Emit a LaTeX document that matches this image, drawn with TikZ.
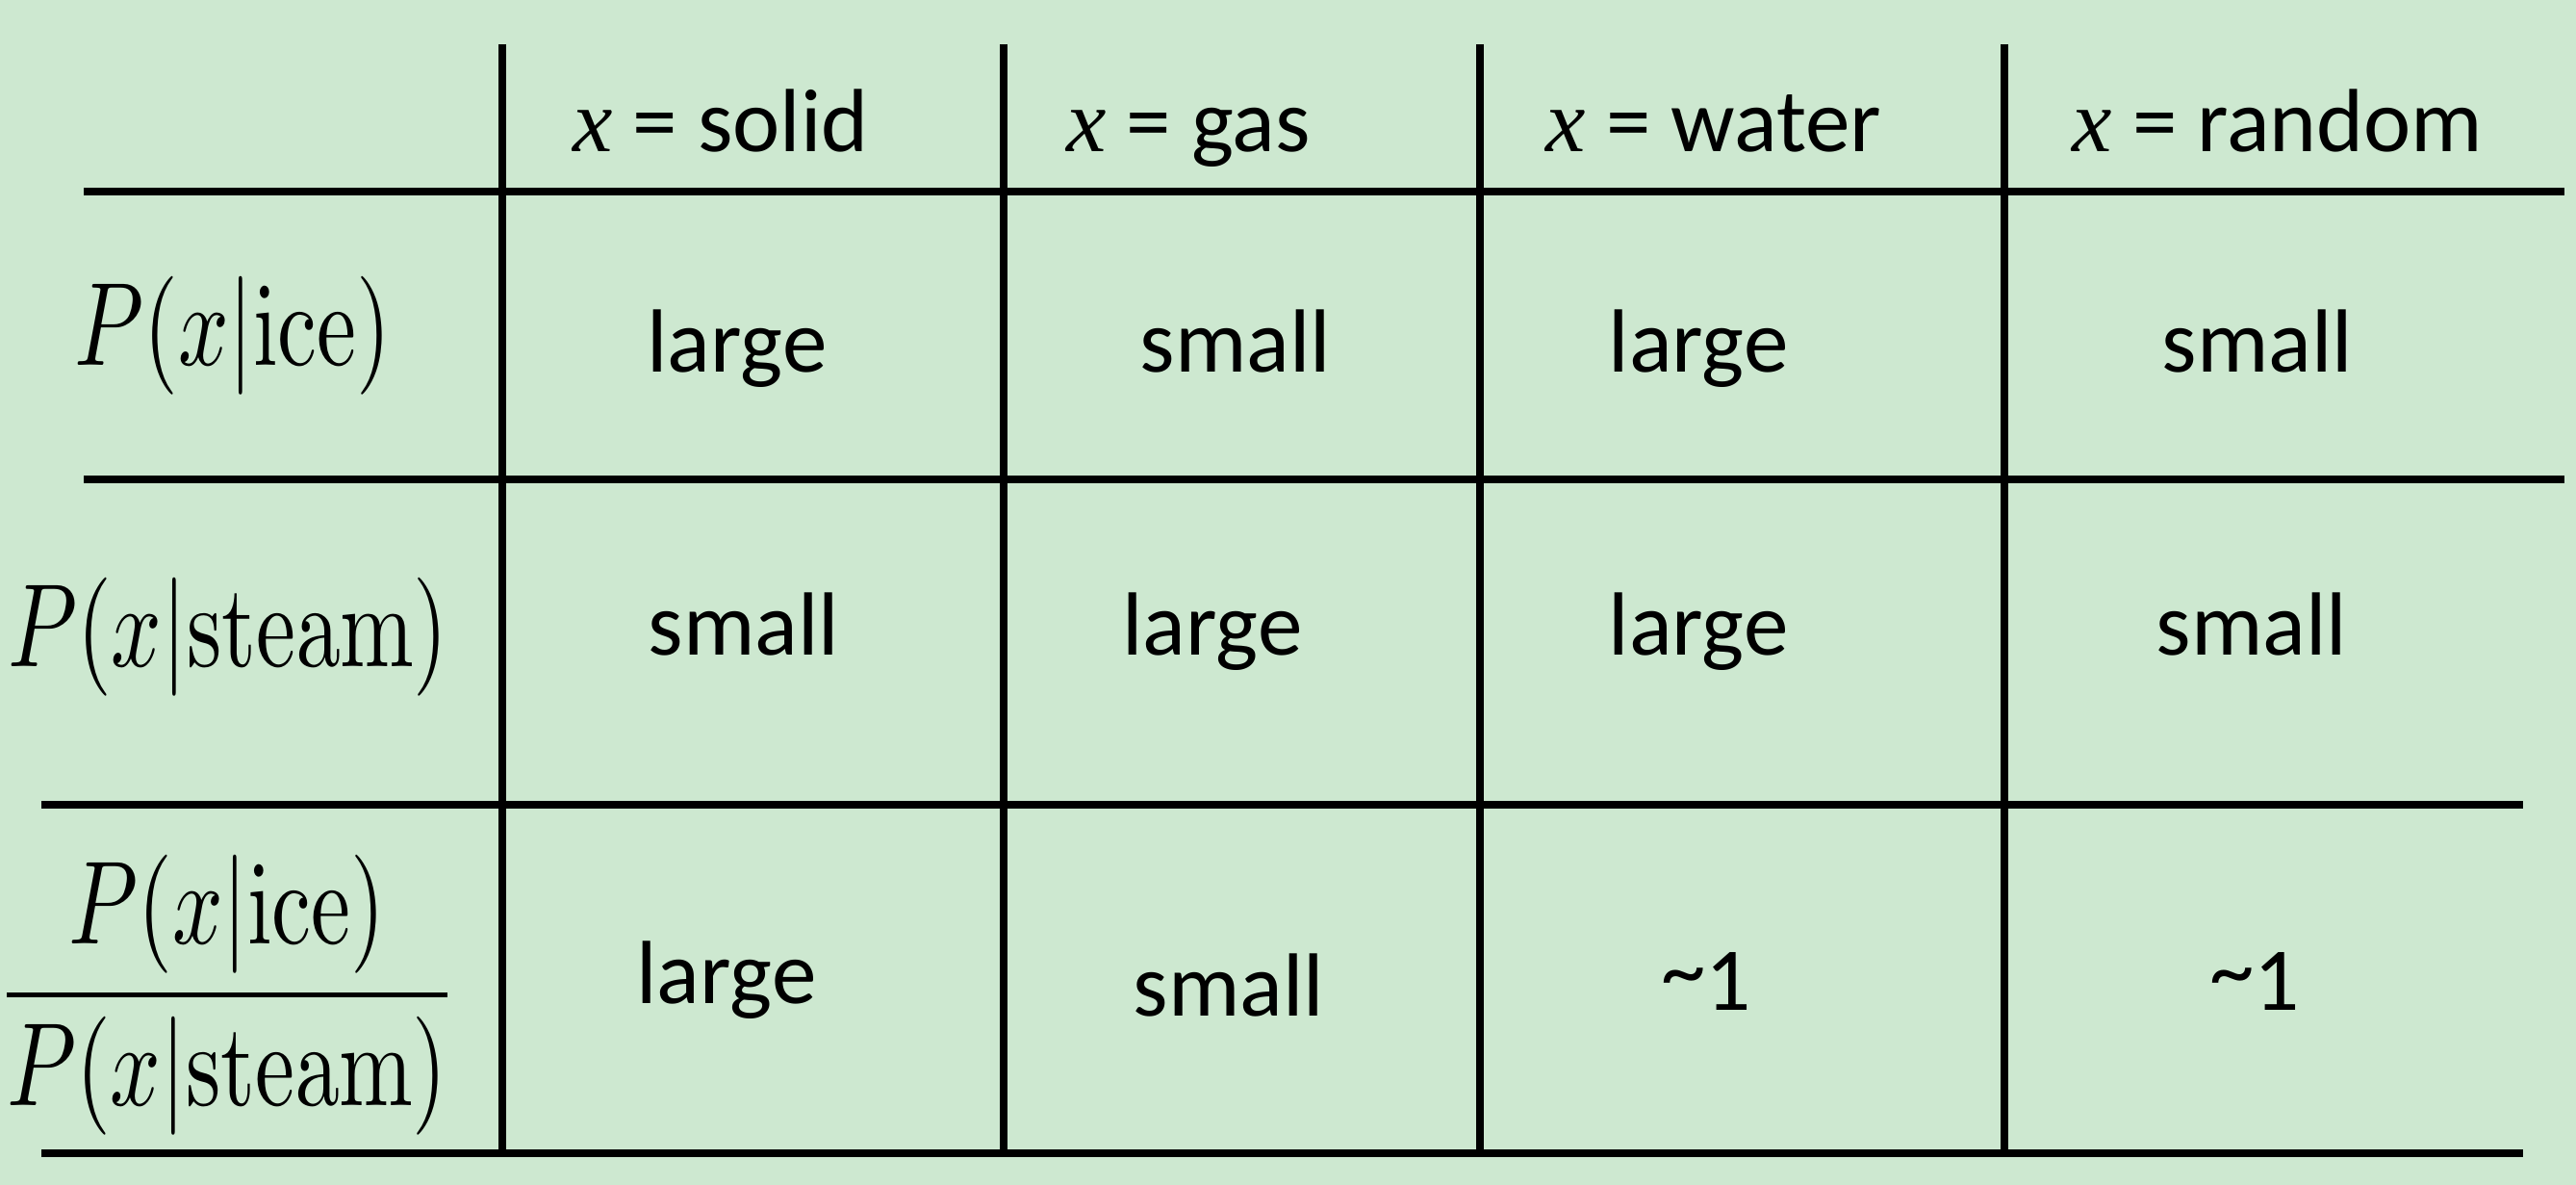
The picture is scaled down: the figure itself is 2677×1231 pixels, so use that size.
\documentclass[tikz,border=0pt]{standalone}
\usepackage[no-math]{fontspec}
\setmainfont{Carlito}
\newfontfamily\tnr{Liberation Serif}
\definecolor{bg}{RGB}{205,232,208}
\newcommand{\mlab}[1]{\scalebox{2.62}[3.5]{$\displaystyle #1$}}
\newcommand{\hx}{{\tnr\itshape x}}
\newcommand{\apx}{\raisebox{3pt}{\textasciitilde}}
\begin{document}
\begin{tikzpicture}[x=0.01cm,y=-0.01cm,
  rule/.style={line width=2.3pt,black},
  txt/.style={anchor=base,inner sep=0pt,font=\fontsize{26.5}{30}\selectfont},
  mth/.style={anchor=base,inner sep=0pt}]
\fill[bg] (0,0) rectangle (2677,1231);
\useasboundingbox (0,0) rectangle (2677,1231);
% line end points
\coordinate (h1l) at (87,199);  \coordinate (h1r) at (2665,199);
\coordinate (h2l) at (87,498);  \coordinate (h2r) at (2665,498);
\coordinate (h3l) at (43,836);  \coordinate (h3r) at (2622,836);
\coordinate (h4l) at (43,1198); \coordinate (h4r) at (2622,1198);
\coordinate (v1t) at (522,46);  \coordinate (v1b) at (522,1196);
\coordinate (v2t) at (1043,46); \coordinate (v2b) at (1043,1196);
\coordinate (v3t) at (1538,46); \coordinate (v3b) at (1538,1196);
\coordinate (v4t) at (2083,46); \coordinate (v4b) at (2083,1196);
\draw[rule] (h1l) -- (h1r);
\draw[rule] (h2l) -- (h2r);
\draw[rule] (h3l) -- (h3r);
\draw[rule] (h4l) -- (h4r);
\draw[rule] (v1t) -- (v1b);
\draw[rule] (v2t) -- (v2b);
\draw[rule] (v3t) -- (v3b);
\draw[rule] (v4t) -- (v4b);
% header
\node[txt] (c1) at (749,158) {\hx{} = solid};
\node[txt] (c2) at (1235,158) {\hx{} = gas};
\node[txt] (c3) at (1781,158) {\hx{} = water};
\node[txt] (c4) at (2367,158) {\hx{} = random};
% row labels
\node[mth] (r1) at (242,380) {\mlab{P(x|\mathrm{ice})}};
\node[mth] (r2) at (237,693) {\mlab{P(x|\mathrm{steam})}};
\node[mth] (r3) at (236,1064) {\mlab{\frac{P(x|\mathrm{ice})}{P(x|\mathrm{steam})}}};
% row 1
\node[txt] (a11) at (766,387) {large};
\node[txt] (a12) at (1284,387) {small};
\node[txt] (a13) at (1765,387) {large};
\node[txt] (a14) at (2346,387) {small};
% row 2
\node[txt] (a21) at (773,681) {small};
\node[txt] (a22) at (1260,681) {large};
\node[txt] (a23) at (1765,681) {large};
\node[txt] (a24) at (2340,681) {small};
% row 3
\node[txt] (a31) at (755,1043) {large};
\node[txt] (a32) at (1277,1056) {small};
\node[txt] (a33) at (1773,1050) {\apx 1};
\node[txt] (a34) at (2343,1050) {\apx 1};
\end{tikzpicture}
\end{document}
